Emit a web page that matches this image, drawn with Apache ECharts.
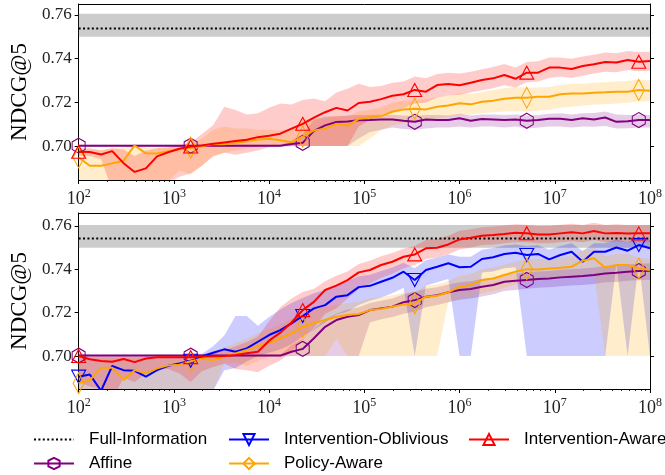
<!DOCTYPE html>
<html><head><meta charset="utf-8">
<script src="https://cdn.jsdelivr.net/npm/echarts@6/dist/echarts.min.js"></script>
<style>html,body{margin:0;padding:0;background:#fff}#c{width:665px;height:475px}</style>
</head><body><div id="c"></div>
<script>
// ---------- data ----------
const samples = [100, 131, 172, 225, 296, 387, 508, 666, 873, 1145,
  1501, 1968, 2581, 3384, 4437, 5817, 7627, 10000, 13111, 17191,
  22539, 29552, 38747, 50802, 66608, 87333, 114505, 150131, 196842, 258086,
  338386, 443669, 581709, 762699, 1000000, 1311134, 1719072, 2253934, 2955209, 3874675,
  5080218, 6660846, 8733261, 11450475, 15013107, 19684194, 25808615, 33838551, 44366873, 58170913,
  76269870, 100000000];
const xTickValues = [1e2, 1e3, 1e4, 1e5, 1e6, 1e7, 1e8];
const xTickExps = ['2', '3', '4', '5', '6', '7', '8'];
const yTickValues = [0.70, 0.72, 0.74, 0.76];
const yTickLabels = ['0.70', '0.72', '0.74', '0.76'];
const seriesNames = ['Full-Information', 'Affine', 'Intervention-Oblivious', 'Policy-Aware', 'Intervention-Aware'];

const fullInfo = [0.7538, 0.7542];      // top, bottom panel
const fullInfoLo = [0.7500, 0.7500];
const fullInfoHi = [0.7605, 0.7605];

// ----- top panel -----
const affineTop = [
 0.7002,0.7002,0.7002,0.7002,0.7002,0.7002,0.7002,0.7002,0.7002,0.7002,
 0.7002,0.7002,0.7002,0.7002,0.7002,0.7002,0.7002,0.7002,0.7002,0.7010,
 0.7015,0.7070,0.7095,0.7110,0.7113,0.7118,0.7119,0.7122,0.7122,0.7116,
 0.7111,0.7122,0.7119,0.7119,0.7127,0.7116,0.7124,0.7122,0.7119,0.7122,
 0.7116,0.7119,0.7125,0.7125,0.7119,0.7127,0.7122,0.7131,0.7111,0.7114,
 0.7119,0.7119];
const affineTopLo = [
 0.6998,0.6998,0.6998,0.6998,0.6998,0.6998,0.6998,0.6998,0.6998,0.6998,
 0.6998,0.6998,0.6998,0.6998,0.6998,0.6998,0.6998,0.6998,0.6998,0.6999,
 0.7000,0.7000,0.7000,0.7000,0.7000,0.7035,0.7065,0.7075,0.7085,0.7078,
 0.7075,0.7080,0.7085,0.7085,0.7090,0.7085,0.7090,0.7090,0.7085,0.7090,
 0.7080,0.7085,0.7090,0.7090,0.7085,0.7090,0.7088,0.7092,0.7080,0.7082,
 0.7085,0.7085];
const affineTopHi = [
 0.7006,0.7006,0.7006,0.7006,0.7006,0.7006,0.7006,0.7006,0.7006,0.7006,
 0.7006,0.7006,0.7006,0.7006,0.7006,0.7006,0.7006,0.7006,0.7006,0.7025,
 0.7055,0.7120,0.7135,0.7135,0.7140,0.7142,0.7142,0.7145,0.7143,0.7140,
 0.7138,0.7142,0.7142,0.7140,0.7148,0.7140,0.7145,0.7145,0.7142,0.7145,
 0.7140,0.7142,0.7148,0.7150,0.7145,0.7150,0.7152,0.7158,0.7145,0.7142,
 0.7145,0.7142];
const policyTop = [
 0.6948,0.6910,0.6910,0.6921,0.6933,0.7003,0.6967,0.6966,0.6977,0.6987,
 0.6993,0.6999,0.7010,0.7008,0.7014,0.7022,0.7030,0.7034,0.7027,0.7018,
 0.7043,0.7072,0.7080,0.7102,0.7094,0.7125,0.7131,0.7137,0.7157,0.7168,
 0.7171,0.7168,0.7180,0.7186,0.7196,0.7191,0.7203,0.7208,0.7217,0.7221,
 0.7221,0.7226,0.7226,0.7237,0.7241,0.7241,0.7244,0.7246,0.7249,0.7249,
 0.7257,0.7253];
const policyTopLo = [
 0.680,0.680,0.680,0.680,0.680,0.680,0.680,0.680,0.684,0.689,
 0.687,0.691,0.695,0.697,0.698,0.699,0.6995,0.700,0.700,0.700,
 0.700,0.700,0.700,0.700,0.700,0.700,0.7035,0.7075,0.7095,0.7105,
 0.7112,0.7120,0.7128,0.7133,0.7142,0.7145,0.7150,0.7155,0.7158,0.7160,
 0.7158,0.7162,0.7165,0.7175,0.7180,0.7185,0.7190,0.7192,0.7195,0.7198,
 0.7205,0.7205];
const policyTopHi = [
 0.6985,0.6985,0.6985,0.6990,0.6990,0.7008,0.6992,0.6993,0.6995,0.7000,
 0.7005,0.7035,0.7075,0.7090,0.7080,0.7080,0.7075,0.7075,0.7070,0.7080,
 0.7120,0.7130,0.7125,0.7140,0.7135,0.7160,0.7165,0.7178,0.7198,0.7208,
 0.7212,0.7215,0.7225,0.7230,0.7242,0.7238,0.7248,0.7255,0.7265,0.7270,
 0.7268,0.7268,0.7270,0.7280,0.7285,0.7285,0.7290,0.7292,0.7295,0.7298,
 0.7305,0.7300];
const awareTop = [
 0.6974,0.6973,0.6962,0.6977,0.6922,0.6882,0.6898,0.6953,0.6972,0.6988,
 0.6998,0.7003,0.7011,0.7017,0.7023,0.7029,0.7041,0.7047,0.7057,0.7080,
 0.7102,0.7130,0.7155,0.7175,0.7163,0.7197,0.7203,0.7215,0.7230,0.7237,
 0.7257,0.7249,0.7279,0.7284,0.7278,0.7290,0.7302,0.7310,0.7325,0.7308,
 0.7336,0.7336,0.7359,0.7359,0.7353,0.7366,0.7374,0.7385,0.7382,0.7394,
 0.7386,0.7389];
const awareTopLo = [
 0.6955,0.6955,0.6940,0.680,0.680,0.680,0.680,0.680,0.683,0.686,
 0.6875,0.6910,0.6955,0.6970,0.6960,0.6970,0.6980,0.6995,0.7000,0.7000,
 0.7000,0.7000,0.7000,0.7000,0.7000,0.7090,0.7120,0.7145,0.7160,0.7172,
 0.7195,0.7200,0.7222,0.7232,0.7235,0.7245,0.7255,0.7265,0.7278,0.7268,
 0.7292,0.7295,0.7312,0.7318,0.7312,0.7322,0.7332,0.7340,0.7338,0.7348,
 0.7342,0.7345];
const awareTopHi = [
 0.6990,0.6990,0.6980,0.6990,0.6985,0.6955,0.6980,0.6990,0.6995,0.7005,
 0.7015,0.7055,0.7095,0.7180,0.7165,0.7145,0.7150,0.7175,0.7195,0.7190,
 0.7211,0.7218,0.7205,0.7245,0.7262,0.7285,0.7270,0.7275,0.7290,0.7295,
 0.7318,0.7310,0.7330,0.7335,0.7332,0.7340,0.7352,0.7362,0.7375,0.7360,
 0.7385,0.7388,0.7405,0.7405,0.7400,0.7410,0.7418,0.7428,0.7425,0.7435,
 0.7430,0.7432];

// ----- bottom panel -----
const affineBot = [
 0.7002,0.7002,0.7002,0.7002,0.7002,0.7002,0.7002,0.7002,0.7002,0.7002,
 0.7002,0.7002,0.7002,0.7002,0.7002,0.7002,0.7002,0.7002,0.7002,0.7020,
 0.7033,0.7082,0.7135,0.7166,0.7181,0.7189,0.7212,0.7220,0.7228,0.7248,
 0.7258,0.7274,0.7281,0.7294,0.7305,0.7309,0.7320,0.7328,0.7343,0.7347,
 0.7351,0.7355,0.7358,0.7363,0.7366,0.7369,0.7374,0.7381,0.7384,0.7389,
 0.7392,0.7394];
const affineBotLo = [
 0.6998,0.6998,0.6998,0.6998,0.6998,0.6998,0.6998,0.6998,0.6998,0.6998,
 0.6998,0.6998,0.6998,0.6998,0.6998,0.6998,0.6998,0.6998,0.6998,0.7000,
 0.7000,0.7000,0.7000,0.7000,0.7000,0.7000,0.7155,0.7170,0.7180,0.7195,
 0.7205,0.7225,0.7235,0.7248,0.7260,0.7265,0.7275,0.7285,0.7300,0.7305,
 0.7310,0.7315,0.7318,0.7322,0.7325,0.7328,0.7332,0.7340,0.7342,0.7348,
 0.7350,0.7352];
const affineBotHi = [
 0.7006,0.7006,0.7006,0.7006,0.7006,0.7006,0.7006,0.7006,0.7006,0.7006,
 0.7006,0.7006,0.7006,0.7006,0.7006,0.7006,0.7006,0.7006,0.7006,0.7050,
 0.7080,0.7125,0.7170,0.7195,0.7215,0.7225,0.7245,0.7255,0.7265,0.7285,
 0.7295,0.7310,0.7318,0.7330,0.7340,0.7345,0.7355,0.7362,0.7378,0.7382,
 0.7386,0.7390,0.7392,0.7398,0.7400,0.7404,0.7408,0.7415,0.7418,0.7422,
 0.7426,0.7428];
const oblivBot = [
 0.6905,0.6915,0.6840,0.6954,0.6935,0.6932,0.6905,0.6935,0.6955,0.6966,
 0.6978,0.6998,0.7015,0.7031,0.7020,0.7035,0.7066,0.7097,0.7120,0.7151,
 0.7185,0.7220,0.7235,0.7274,0.7281,0.7318,0.7324,0.7343,0.7361,0.7389,
 0.7351,0.7397,0.7412,0.7428,0.7410,0.7412,0.7448,0.7456,0.7471,0.7477,
 0.7466,0.7471,0.7446,0.7466,0.7481,0.7435,0.7481,0.7481,0.7501,0.7486,
 0.7512,0.7497];
const oblivBotLo = [
 0.680,0.680,0.680,0.680,0.680,0.680,0.680,0.680,0.680,0.680,
 0.680,0.680,0.684,0.6935,0.6945,0.6975,0.7000,0.7015,0.7030,0.7055,
 0.7090,0.7120,0.7155,0.7190,0.7205,0.7235,0.7255,0.7270,0.7290,0.7315,
 0.7000,0.7325,0.7340,0.7355,0.7000,0.7000,0.7385,0.7390,0.7405,0.7410,
 0.7000,0.7000,0.7000,0.7000,0.7000,0.7000,0.7000,0.7000,0.7425,0.7000,
 0.7435,0.7000];
const oblivBotHi = [
 0.6995,0.6995,0.6995,0.6995,0.6995,0.6995,0.6995,0.6995,0.6995,0.6995,
 0.6998,0.7010,0.7045,0.7095,0.7185,0.7185,0.7140,0.7180,0.7215,0.7245,
 0.7268,0.7290,0.7305,0.7330,0.7345,0.7368,0.7375,0.7392,0.7408,0.7430,
 0.7405,0.7442,0.7455,0.7468,0.7458,0.7458,0.7490,0.7498,0.7510,0.7515,
 0.7508,0.7512,0.7490,0.7508,0.7520,0.7485,0.7520,0.7520,0.7538,0.7525,
 0.7550,0.7535];
const policyBot = [
 0.6875,0.6889,0.6946,0.6946,0.6890,0.6935,0.6920,0.6943,0.6957,0.6960,
 0.6976,0.6988,0.6982,0.6997,0.7012,0.7028,0.7046,0.7061,0.7082,0.7105,
 0.7135,0.7151,0.7166,0.7181,0.7189,0.7194,0.7212,0.7217,0.7228,0.7238,
 0.7243,0.7274,0.7278,0.7294,0.7320,0.7328,0.7351,0.7358,0.7374,0.7389,
 0.7401,0.7399,0.7404,0.7407,0.7412,0.7440,0.7451,0.7407,0.7420,0.7420,
 0.7404,0.7397];
const policyBotLo = [
 0.680,0.680,0.680,0.680,0.680,0.680,0.680,0.680,0.680,0.680,
 0.680,0.680,0.684,0.6965,0.6970,0.6955,0.6980,0.7000,0.7000,0.7000,
 0.7000,0.7000,0.7000,0.7080,0.7000,0.7000,0.7000,0.7000,0.7000,0.7000,
 0.7000,0.7000,0.7000,0.7250,0.7265,0.7270,0.7290,0.7300,0.7315,0.7330,
 0.7345,0.7350,0.7355,0.7360,0.7365,0.7375,0.7385,0.7000,0.7000,0.7000,
 0.7000,0.7000];
const policyBotHi = [
 0.6995,0.6995,0.6995,0.6995,0.6995,0.6995,0.6995,0.6995,0.6995,0.6995,
 0.6995,0.7005,0.7025,0.7040,0.7060,0.7080,0.7105,0.7125,0.7145,0.7170,
 0.7195,0.7215,0.7225,0.7235,0.7245,0.7250,0.7265,0.7272,0.7280,0.7292,
 0.7298,0.7325,0.7330,0.7345,0.7370,0.7378,0.7400,0.7408,0.7422,0.7435,
 0.7448,0.7448,0.7452,0.7455,0.7460,0.7488,0.7500,0.7460,0.7472,0.7472,
 0.7455,0.7448];
const awareBot = [
 0.7000,0.6985,0.6977,0.6974,0.6986,0.6972,0.6989,0.6994,0.6994,0.6995,
 0.6995,0.6998,0.6999,0.7000,0.7005,0.7013,0.7020,0.7071,0.7108,0.7155,
 0.7212,0.7250,0.7305,0.7325,0.7350,0.7386,0.7397,0.7420,0.7435,0.7458,
 0.7469,0.7497,0.7500,0.7515,0.7538,0.7546,0.7555,0.7558,0.7563,0.7569,
 0.7567,0.7561,0.7561,0.7566,0.7571,0.7566,0.7577,0.7566,0.7568,0.7565,
 0.7566,0.7566];
const awareBotLo = [
 0.688,0.686,0.685,0.680,0.690,0.688,0.692,0.694,0.694,0.692,
 0.688,0.693,0.695,0.6965,0.694,0.6935,0.6925,0.6955,0.698,0.702,
 0.7075,0.7130,0.7195,0.7220,0.7265,0.7310,0.7335,0.7360,0.7380,0.7405,
 0.7420,0.7448,0.7455,0.7470,0.7492,0.7500,0.7512,0.7515,0.7520,0.7525,
 0.7525,0.7520,0.7520,0.7525,0.7530,0.7525,0.7535,0.7525,0.7528,0.7525,
 0.7525,0.7525];
const awareBotHi = [
 0.7015,0.7005,0.7000,0.7000,0.7000,0.7000,0.7005,0.7005,0.7005,0.7005,
 0.7010,0.7010,0.7015,0.7025,0.7045,0.7065,0.7090,0.7160,0.7225,0.7265,
 0.7295,0.7310,0.7345,0.7370,0.7390,0.7425,0.7440,0.7460,0.7475,0.7495,
 0.7508,0.7535,0.7540,0.7555,0.7578,0.7585,0.7594,0.7598,0.7602,0.7608,
 0.7606,0.7600,0.7600,0.7606,0.7610,0.7605,0.7615,0.7605,0.7608,0.7605,
 0.7605,0.7605];

// ---------- styles ----------
const SERIF = '"Liberation Serif", "DejaVu Serif", serif';
const SANS = '"Liberation Sans", Arial, sans-serif';
const C = {affine:'#800080', obliv:'#0000FF', policy:'#FFA500', aware:'#FF0000'};
const FILL = {affine:'rgba(128,0,128,0.2)', obliv:'rgba(0,0,255,0.2)', policy:'rgba(255,165,0,0.2)', aware:'rgba(255,0,0,0.2)'};
const HEX = 'path://M0,-1L0.866,-0.5L0.866,0.5L0,1L-0.866,0.5L-0.866,-0.5Z';
const MARK_EVERY = 10;
const yRange = [[0.6845, 0.7650], [0.6848, 0.7660]];
const gridTops = [4, 213];

function nearestIdx(arr, v, log) {
  let best = 0, bd = Infinity;
  arr.forEach((t, i) => { const d = log ? Math.abs(Math.log(v) - Math.log(t)) : Math.abs(v - t); if (d < bd) { bd = d; best = i; } });
  return best;
}
const xMinorTicks = [];
for (let d = 100; d < 1e8; d *= 10) for (let m = 2; m <= 9; m++) xMinorTicks.push(m * d);

const grids = [], xAxes = [], yAxes = [];
[0, 1].forEach(g => {
  grids.push({left: 77, top: gridTops[g], width: 576, height: 176});
  xAxes.push({gridIndex: g, type: 'log', logBase: 10, min: 100, max: 1e8, position: 'bottom',
    axisLine: {show: true, onZero: false, lineStyle: {color: '#000', width: 1}},
    axisTick: {show: true, inside: false, length: 4, customValues: xTickValues, lineStyle: {color: '#000', width: 1}},
    axisLabel: {show: true, customValues: xTickValues, margin: 8,
      formatter: v => '{b|10}{s|' + xTickExps[nearestIdx(xTickValues, v, true)] + '}',
      rich: {b: {fontFamily: SERIF, fontSize: 18, color: '#222', lineHeight: 20, verticalAlign: 'bottom'},
             s: {fontFamily: SERIF, fontSize: 12, color: '#222', lineHeight: 12, verticalAlign: 'top'}}},
    splitLine: {show: false}});
  xAxes.push({gridIndex: g, type: 'log', logBase: 10, min: 100, max: 1e8, position: 'bottom',
    axisLine: {show: false},
    axisTick: {show: true, inside: false, length: 2, customValues: xMinorTicks, lineStyle: {color: '#000', width: 0.8}},
    axisLabel: {show: false}, splitLine: {show: false}});
  xAxes.push({gridIndex: g, type: 'log', logBase: 10, min: 100, max: 1e8, position: 'top',
    axisLine: {show: true, onZero: false, lineStyle: {color: '#000', width: 1}},
    axisTick: {show: false}, axisLabel: {show: false}, splitLine: {show: false}});
  yAxes.push({gridIndex: g, type: 'value', min: yRange[g][0], max: yRange[g][1], position: 'left',
    axisLine: {show: true, onZero: false, lineStyle: {color: '#000', width: 1}},
    axisTick: {show: true, inside: false, length: 4, customValues: yTickValues, lineStyle: {color: '#000'}},
    axisLabel: {show: true, customValues: yTickValues, margin: 7, fontFamily: SERIF, fontSize: 17, color: '#222',
      formatter: v => yTickLabels[nearestIdx(yTickValues, v, false)]},
    splitLine: {show: false},
    name: 'NDCG@5', nameLocation: 'middle', nameGap: 47, nameRotate: 90,
    nameTextStyle: {fontFamily: SERIF, fontSize: 23, color: '#000'}});
  yAxes.push({gridIndex: g, type: 'value', min: yRange[g][0], max: yRange[g][1], position: 'right',
    axisLine: {show: true, onZero: false, lineStyle: {color: '#000', width: 1}},
    axisTick: {show: true, inside: false, length: 4, customValues: yTickValues, lineStyle: {color: '#000'}},
    axisLabel: {show: false}, splitLine: {show: false}});
});

function band(g, lo, hi, fill) {
  return {type: 'custom', xAxisIndex: g * 3, yAxisIndex: g * 2, silent: true, z: 1, clip: true,
    data: samples.map((x, i) => [x, lo[i], hi[i]]),
    encode: {x: 0, y: [1, 2]},
    renderItem: (params, api) => {
      if (params.dataIndex !== 0) return null;
      const up = [], dn = [];
      for (let i = 0; i < samples.length; i++) {
        up.push(api.coord([samples[i], hi[i]]));
        dn.push(api.coord([samples[i], lo[i]]));
      }
      const cs = params.coordSys;
      return {type: 'polygon', shape: {points: up.concat(dn.reverse())}, style: {fill: fill, stroke: null},
        clipPath: {type: 'rect', shape: {x: cs.x, y: cs.y, width: cs.width, height: cs.height}}};
    }};
}
function line(g, name, ys, color, symbol, size, rotate, z) {
  return {type: 'line', name: name, xAxisIndex: g * 3, yAxisIndex: g * 2, z: z,
    symbol: symbol, symbolSize: size, symbolRotate: rotate, showSymbol: true, showAllSymbol: true,
    data: samples.map((x, i) => i % MARK_EVERY === 0 ? {value: [x, ys[i]]} : {value: [x, ys[i]], symbol: 'none'}),
    lineStyle: {color: color, width: 2},
    itemStyle: {color: 'rgba(255,255,255,0)', borderColor: color, borderWidth: 1.1},
    emphasis: {disabled: true}, clip: true};
}
function full(g) {
  return {type: 'line', name: 'Full-Information', xAxisIndex: g * 3, yAxisIndex: g * 2, z: 2,
    symbol: 'none', data: [[100, fullInfo[g]], [1e8, fullInfo[g]]],
    lineStyle: {color: '#000', width: 2, type: [2, 2.4]},
    itemStyle: {color: '#000'},
    markArea: {silent: true, itemStyle: {color: 'rgba(128,128,128,0.4)'},
      data: [[{yAxis: fullInfoLo[g]}, {yAxis: fullInfoHi[g]}]]}};
}

const series = [
  band(0, affineTopLo, affineTopHi, FILL.affine),
  band(0, policyTopLo, policyTopHi, FILL.policy),
  band(0, awareTopLo, awareTopHi, FILL.aware),
  full(0),
  line(0, 'Affine', affineTop, C.affine, HEX, [13, 15], 0, 3),
  line(0, 'Policy-Aware', policyTop, C.policy, 'diamond', [11, 21], 0, 4),
  line(0, 'Intervention-Aware', awareTop, C.aware, 'triangle', [14, 13], 0, 5),
  band(1, affineBotLo, affineBotHi, FILL.affine),
  band(1, oblivBotLo, oblivBotHi, FILL.obliv),
  band(1, policyBotLo, policyBotHi, FILL.policy),
  band(1, awareBotLo, awareBotHi, FILL.aware),
  full(1),
  line(1, 'Affine', affineBot, C.affine, HEX, [13, 15], 0, 3),
  line(1, 'Intervention-Oblivious', oblivBot, C.obliv, 'triangle', [14, 13], 180, 4),
  line(1, 'Policy-Aware', policyBot, C.policy, 'diamond', [11, 21], 0, 5),
  line(1, 'Intervention-Aware', awareBot, C.aware, 'triangle', [14, 13], 0, 6)
];

const legendBase = {orient: 'vertical', itemWidth: 40, itemHeight: 14, itemGap: 7, selectedMode: false,
  height: 60, padding: 0,
  textStyle: {fontFamily: SANS, fontSize: 17, lineHeight: 14, color: '#000', padding: [0, 0, 0, 10]}};
const legends = [
  Object.assign({}, legendBase, {left: 33, top: 431,
    data: [{name: seriesNames[0], itemStyle: {opacity: 0}}, seriesNames[1]]}),
  Object.assign({}, legendBase, {left: 228, top: 431, data: [seriesNames[2], seriesNames[3]]}),
  Object.assign({}, legendBase, {left: 468, top: 431, data: [seriesNames[4]]})
];

const chart = echarts.init(document.getElementById('c'), null, {renderer: 'canvas'});
chart.setOption({animation: false, backgroundColor: '#fff', grid: grids, xAxis: xAxes, yAxis: yAxes,
  legend: legends, series: series});
</script>
</body></html>
